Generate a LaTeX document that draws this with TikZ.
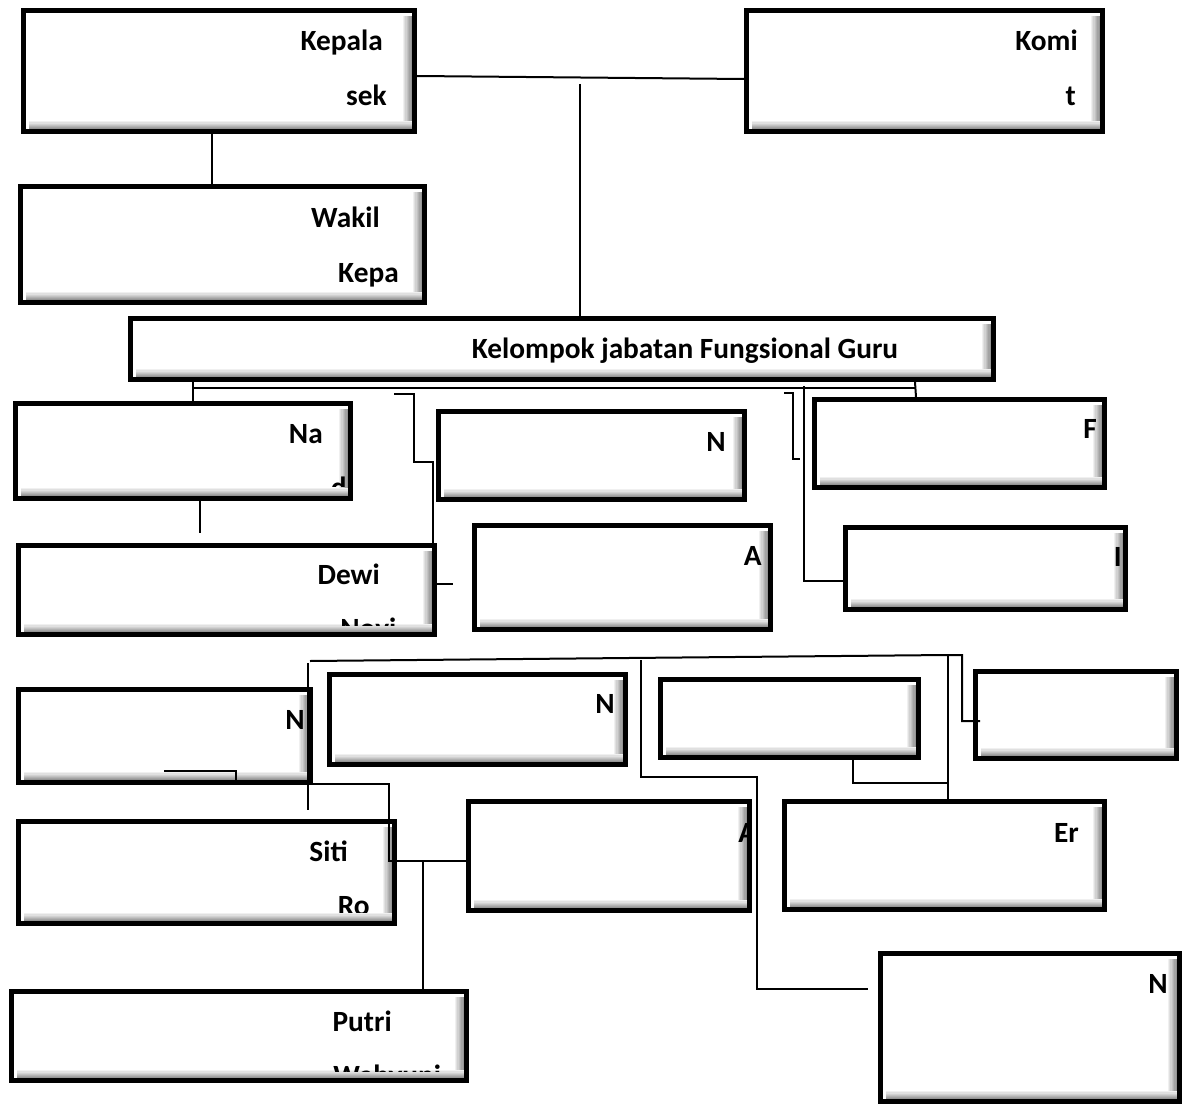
\documentclass[tikz,border=0pt]{standalone}
\usepackage{fontspec}
\setmainfont{Carlito}

\tikzstyle{box}=[draw, line width=3.75pt, fill=white, inner sep=0pt,
  path picture={
    \foreach \k in {1,...,9}{
      \pgfmathtruncatemacro{\gv}{\k*6}
      \fill[black!\gv] ([xshift=-(10-\k)*1pt, yshift=-4pt]path picture bounding box.north east)
        rectangle ([xshift=-(9-\k)*1pt]path picture bounding box.south east);
    }
    \foreach \k in {1,...,9}{
      \pgfmathtruncatemacro{\gv}{\k*6}
      \fill[black!\gv] ([xshift=4pt, yshift=(10-\k)*0.85pt]path picture bounding box.south west)
        rectangle ([yshift=(9-\k)*0.85pt]path picture bounding box.south east);
    }
  }]
\tikzstyle{conn}=[draw, line width=1.5pt]
\tikzstyle{txt}=[font=\bfseries\fontsize{22}{26}\selectfont, inner sep=0pt, anchor=base east]
\newcommand{\pxunit}{0.75pt}

\begin{document}
\begin{tikzpicture}[x=\pxunit, y=-\pxunit]
    \useasboundingbox (0,0) rectangle (1189,1106);
    % First we draw the boxes (outer edges in pixels)
    \foreach \name/\xa/\ya/\xb/\yb in {kepala/21/8/417/134, komite/744/8/1105/134,
        wakil/18/184/427/305, kelompok/128/316/996/382,
        na/13/401/353/501, dewi/16/543/437/637, nrow/436/409/747/502,
        arow/472/523/773/632, fbox/812/397/1107/490, ibox/843/525/1128/612,
        nleft/16/687/313/785, nmid/327/672/628/767, blankA/658/677/921/760,
        blankB/973/669/1179/761, siti/16/819/397/926, alow/466/799/752/913,
        er/782/799/1107/912, nlow/878/951/1182/1104, putri/9/989/469/1083}
        \node[box, minimum width={(\xb-\xa)*0.75pt-3.75pt},
              minimum height={(\yb-\ya)*0.75pt-3.75pt}]
            (\name) at ({(\xa+\xb)/2},{(\ya+\yb)/2}) {};
    % Texts
    \foreach \pos/\name/\word in {{(383,51)/kepalaA/Kepala}, {(387,105)/kepalaB/sek},
        {(1078,51)/komiteA/Komi}, {(1076,105)/komiteB/t},
        {(380,227)/wakilA/Wakil}, {(399,282)/wakilB/Kepa},
        {(323,443)/naA/Na}, {(380,584)/dewiA/Dewi}, {(726,451)/nrowA/N},
        {(762,565)/arowA/A}, {(1097,438)/fboxA/F}, {(1122,566)/iboxA/I},
        {(305,729)/nleftA/N}, {(615,713)/nmidA/N}, {(348,861)/sitiA/Siti},
        {(1079,842)/erA/Er}, {(1168,993)/nlowA/N}, {(392,1031)/putriA/Putri}}
        \node[txt] (\name) at \pos {\word};
    \node[txt, anchor=base] (kelompokA) at (685,358) {Kelompok jabatan Fungsional Guru};
    % second lines cut off by the boxes
    \begin{scope}
        \clip (300,470) rectangle (350,486);
        \node[txt] (naB) at (347,497) {d};
    \end{scope}
    \begin{scope}
        \clip (300,600) rectangle (430,625);
        \node[txt, anchor=base west] (dewiB) at (340,638) {Novi};
    \end{scope}
    \begin{scope}
        \clip (300,880) rectangle (392,912);
        \node[txt] (sitiB) at (370,915) {Ro};
    \end{scope}
    \begin{scope}
        \clip (700,810) rectangle (748,850);
        \node[txt, anchor=base west] (alowA) at (738,842) {A};
    \end{scope}
    \begin{scope}
        \clip (300,1050) rectangle (460,1071);
        \node[txt, anchor=base west] (putriB) at (333,1085) {Wahyuni};
    \end{scope}
    % Free ends and corners of the connectors
    \coordinate (kc) at (580,84);
    \coordinate (gl) at (193,388);
    \coordinate (gr) at (915,388);
    \coordinate (ba) at (394,394);
    \coordinate (bb) at (784,393);
    \coordinate (bc) at (804,386);
    \coordinate (nd) at (200,533);
    \coordinate (ta) at (310,661);
    \coordinate (tb) at (947,655);
    \coordinate (va) at (308,663);
    \coordinate (vb) at (308,810);
    \coordinate (vc) at (641,660);
    \coordinate (ea) at (948,655);
    \coordinate (sa) at (164,771);
    \coordinate (pa) at (423,861);
    % Connect boxes with lines
    \path[conn] (kepala.east |- 0,76) -- (komite.west |- 0,79);
    \path[conn] (kc) -- (kc |- kelompok.north);
    \path[conn] (kepala.south -| 212,0) -- (wakil.north -| 212,0);
    \path[conn] (kelompok.south -| 193,0) -- (na.north -| 193,0);
    \path[conn] (gl) -- (gr);
    \path[conn] (kelompok.south -| 915,0) -- (fbox.north -| 916,0);
    \path[conn] (ba) -- ++(20,0) -- ++(0,68) -- ++(19,0) -- ++(0,122) -- ++(20,0);
    \path[conn] (bb) -- ++(9,0) -- ++(0,66) -- ++(7,0);
    \path[conn] (bc) |- (ibox.west |- 0,581);
    \path[conn] (na.south -| 200,0) -- (nd);
    \path[conn] (ta) -- (tb) -- ++(15,0) -- ++(0,66) -- ++(18,0);
    \path[conn] (va) -- (vb);
    \path[conn] (vc) -- ++(0,117) -- ++(116,0) -- ++(0,212) -- ++(111,0);
    \path[conn] (ea) -- (er.north -| 948,0);
    \path[conn] (blankA.south -| 853,0) -- ++(0,23) -- ++(95,0);
    \path[conn] (sa) -- ++(72,0) -- ++(0,13) -- ++(153,0) -- ++(0,77) -- (alow.west |- 0,861);
    \path[conn] (pa) -- (putri.north -| 423,0);
\end{tikzpicture}
\end{document}
